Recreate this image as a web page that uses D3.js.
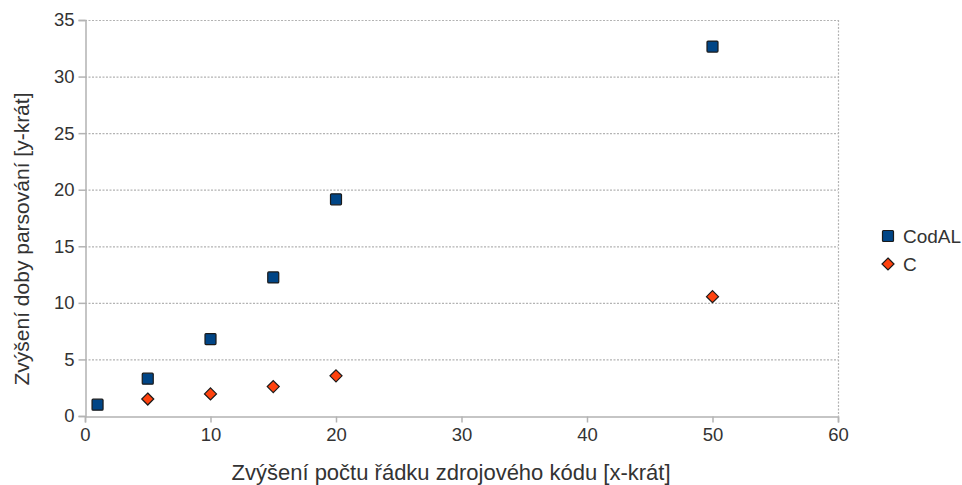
<!DOCTYPE html>
<html>
<head>
<meta charset="utf-8">
<script src="https://cdn.jsdelivr.net/npm/d3@7"></script>
<style>
  body { margin: 0; background: #fff; }
  svg { display: block; font-family: "Liberation Sans", Arial, sans-serif; }
</style>
</head>
<body>
<svg id="chart" width="962" height="485"></svg>
<script>
// Line-count multiplier (x) and parse-time multiplier (y) per language
const codalX = [1, 5, 10, 15, 20, 50];
const codalY = [1.0, 3.3, 6.8, 12.25, 19.15, 32.65];
const cX = [5, 10, 15, 20, 50];
const cY = [1.5, 1.95, 2.6, 3.55, 10.55];
const xTicks = [0, 10, 20, 30, 40, 50, 60];
const yTicks = [0, 5, 10, 15, 20, 25, 30, 35];
const seriesNames = ["CodAL", "C"];
const xTitle = "Zvýšení počtu řádku zdrojového kódu [x-krát]";
const yTitle = "Zvýšení doby parsování [y-krát]";

const svg = d3.select("#chart");
const m = { left: 85, right: 838, top: 20, bottom: 416 };
const x = d3.scaleLinear().domain([0, 60]).range([m.left, m.right]);
const y = d3.scaleLinear().domain([0, 35]).range([m.bottom, m.top]);

const gridColor = "#b3b3b3";
const textColor = "#333";

// horizontal dotted gridlines
svg.append("g").selectAll("line").data(yTicks.filter(d => d > 0)).join("line")
  .attr("x1", m.left).attr("x2", m.right)
  .attr("y1", d => y(d) + 0.5).attr("y2", d => y(d) + 0.5)
  .attr("stroke", gridColor).attr("stroke-width", 1.2).attr("stroke-dasharray", "2,1.5");

// right edge (dotted)
svg.append("line")
  .attr("x1", x(60) + 0.5).attr("x2", x(60) + 0.5)
  .attr("y1", m.top).attr("y2", m.bottom)
  .attr("stroke", gridColor).attr("stroke-width", 1.2).attr("stroke-dasharray", "2,1.5");

// axes
const xAxis = svg.append("g").attr("transform", `translate(0,${m.bottom + 0.5})`)
  .call(d3.axisBottom(x).tickValues(xTicks).tickSize(6).tickPadding(5).tickFormat(d3.format("d")));
const yAxis = svg.append("g").attr("transform", `translate(${m.left + 0.5},0)`)
  .call(d3.axisLeft(y).tickValues(yTicks).tickSize(7).tickPadding(4).tickFormat(d3.format("d")));
[xAxis, yAxis].forEach(a => {
  a.select(".domain").attr("stroke", gridColor).attr("stroke-width", 1.5);
  a.selectAll(".tick line").attr("stroke", gridColor).attr("stroke-width", 1.5);
  a.selectAll(".tick text").attr("fill", textColor).attr("font-size", 18.5)
    .attr("font-family", "Liberation Sans, Arial, sans-serif");
});

// axis titles
svg.append("text").attr("x", 451).attr("y", 480)
  .attr("text-anchor", "middle").attr("fill", textColor).attr("font-size", 22).text(xTitle);
svg.append("text").attr("transform", "translate(28.5,239) rotate(-90)")
  .attr("text-anchor", "middle").attr("fill", textColor).attr("font-size", 21).text(yTitle);

const blue = "#004586", orange = "#ff420e";
const sq = 11, dm = 6;
const diamond = (cx, cy) => `M${cx},${cy - dm}L${cx + dm},${cy}L${cx},${cy + dm}L${cx - dm},${cy}Z`;

// CodAL squares
svg.append("g").selectAll("rect").data(codalX.map((v, i) => [v, codalY[i]])).join("rect")
  .attr("x", d => x(d[0]) - sq / 2).attr("y", d => y(d[1]) - sq / 2)
  .attr("width", sq).attr("height", sq).attr("rx", 1)
  .attr("fill", blue).attr("stroke", "#1a1a1a").attr("stroke-width", 1.2);

// C diamonds
svg.append("g").selectAll("path").data(cX.map((v, i) => [v, cY[i]])).join("path")
  .attr("d", d => diamond(x(d[0]), y(d[1])))
  .attr("fill", orange).attr("stroke", "#1a1a1a").attr("stroke-width", 1.2);

// legend
const lg = svg.append("g");
lg.append("rect").attr("x", 888 - sq / 2).attr("y", 236 - sq / 2).attr("width", sq).attr("height", sq)
  .attr("rx", 1).attr("fill", blue).attr("stroke", "#1a1a1a").attr("stroke-width", 1.2);
lg.append("path").attr("d", diamond(888, 264)).attr("fill", orange).attr("stroke", "#1a1a1a").attr("stroke-width", 1.2);
lg.selectAll("text").data(seriesNames).join("text")
  .attr("x", 903).attr("y", (d, i) => 236 + i * 28).attr("dy", "0.35em")
  .attr("fill", textColor).attr("font-size", 19).text(d => d);
</script>
</body>
</html>
